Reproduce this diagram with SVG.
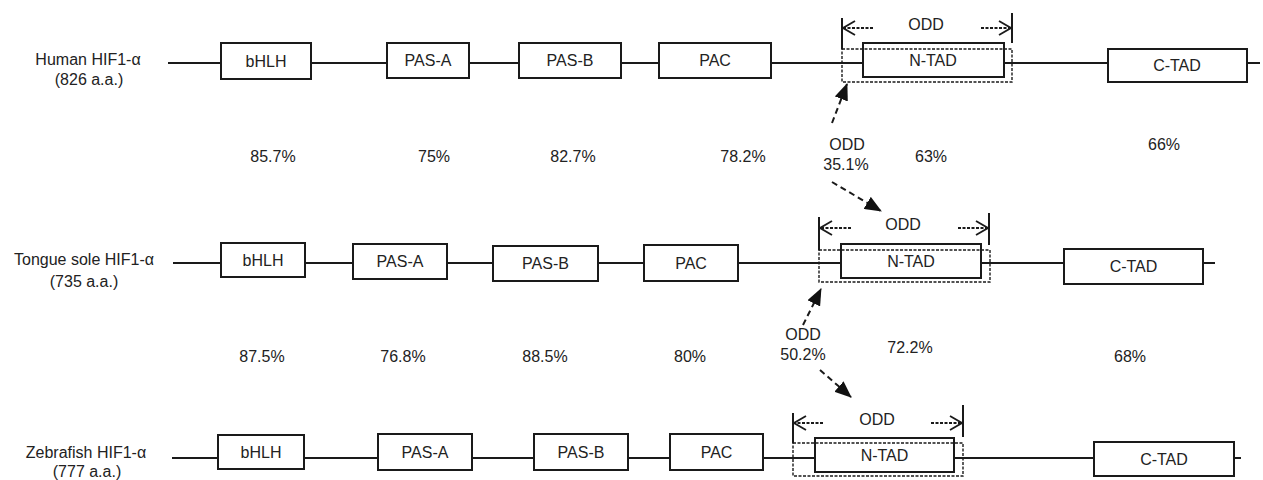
<svg xmlns="http://www.w3.org/2000/svg" width="1263" height="480" viewBox="0 0 1263 480">
  <style>
    text { font-family: "Liberation Sans", Arial, sans-serif; font-size: 16px; fill: #222; text-anchor: middle; }
    .bb { fill: #fff; stroke: #1a1a1a; stroke-width: 2; }
    .bl { dominant-baseline: central; }
    .chain { stroke: #1a1a1a; stroke-width: 2; fill: none; }
    .odd-box { fill: none; stroke: #1a1a1a; stroke-width: 1.4; stroke-dasharray: 3 1.5; }
    .bar { stroke: #1a1a1a; stroke-width: 2; }
    .span { stroke: #1a1a1a; stroke-width: 1.8; stroke-dasharray: 3 1.5; fill: none; marker-end: url(#chev); }
    .link { stroke: #1a1a1a; stroke-width: 2; stroke-dasharray: 6 4; fill: none; marker-end: url(#tri); }
  </style>
  <defs>
    <marker id="chev" viewBox="0 0 14 16" refX="13" refY="8" markerWidth="14" markerHeight="16" markerUnits="userSpaceOnUse" orient="auto">
      <path d="M1 1 L13 8 L1 15" fill="none" stroke="#1a1a1a" stroke-width="1.8"/>
    </marker>
    <marker id="tri" viewBox="0 0 17 14" refX="16" refY="7" markerWidth="17" markerHeight="14" markerUnits="userSpaceOnUse" orient="auto">
      <path d="M0 0 L17 7 L0 14 Z" fill="#111"/>
    </marker>
  </defs>

  <!-- Human HIF1-α -->
  <g id="human">
    <text x="88" y="65">Human HIF1-α</text>
    <text x="89" y="85">(826 a.a.)</text>
    <line class="chain" x1="168" y1="63" x2="1260" y2="63"/>
    <g id="human-bhlh"><rect class="bb" x="221" y="43" width="90" height="36"/><text class="bl" x="266" y="61">bHLH</text></g>
    <g id="human-pasa"><rect class="bb" x="387" y="43" width="82" height="35"/><text class="bl" x="428" y="60.5">PAS-A</text></g>
    <g id="human-pasb"><rect class="bb" x="519" y="43" width="102" height="35"/><text class="bl" x="570" y="60.5">PAS-B</text></g>
    <g id="human-pac"><rect class="bb" x="659" y="43" width="112" height="35"/><text class="bl" x="715" y="60.5">PAC</text></g>
    <g id="human-ntad"><rect class="bb" x="863" y="43" width="141" height="34"/><text class="bl" x="933" y="60">N-TAD</text></g>
    <rect class="odd-box" x="842" y="49" width="170" height="33"/>
    <g id="human-ctad"><rect class="bb" x="1108" y="49" width="139" height="33"/><text class="bl" x="1177" y="65.5">C-TAD</text></g>
    <g id="human-odd">
      <line class="bar" x1="842" y1="18" x2="842" y2="49"/>
      <line class="bar" x1="1012" y1="13" x2="1012" y2="43"/>
      <line class="span" x1="873" y1="28" x2="843" y2="28"/>
      <line class="span" x1="981" y1="28" x2="1011" y2="28"/>
      <text x="926" y="30">ODD</text>
    </g>
  </g>

  <!-- Identity, human vs tongue sole -->
  <g id="identity-1">
    <text x="273" y="162">85.7%</text>
    <text x="434" y="162">75%</text>
    <text x="573" y="162">82.7%</text>
    <text x="743" y="162">78.2%</text>
    <text x="847" y="150">ODD</text>
    <text x="846" y="170">35.1%</text>
    <text x="931" y="162">63%</text>
    <text x="1164" y="150">66%</text>
  </g>

  <!-- Tongue sole HIF1-α -->
  <g id="tongue-sole">
    <text x="84" y="265">Tongue sole HIF1-α</text>
    <text x="84" y="287">(735 a.a.)</text>
    <line class="chain" x1="173" y1="263" x2="1215" y2="263"/>
    <g id="ts-bhlh"><rect class="bb" x="221" y="243" width="84" height="34"/><text class="bl" x="263" y="260">bHLH</text></g>
    <g id="ts-pasa"><rect class="bb" x="353" y="244" width="94" height="35"/><text class="bl" x="400" y="261.5">PAS-A</text></g>
    <g id="ts-pasb"><rect class="bb" x="493" y="246" width="105" height="35"/><text class="bl" x="545.5" y="263.5">PAS-B</text></g>
    <g id="ts-pac"><rect class="bb" x="644" y="245" width="94" height="36"/><text class="bl" x="691" y="263">PAC</text></g>
    <g id="ts-ntad"><rect class="bb" x="841" y="244" width="140" height="34"/><text class="bl" x="911" y="261">N-TAD</text></g>
    <rect class="odd-box" x="819" y="250" width="171" height="32"/>
    <g id="ts-ctad"><rect class="bb" x="1064" y="249" width="139" height="35"/><text class="bl" x="1133.5" y="266.5">C-TAD</text></g>
    <g id="ts-odd">
      <line class="bar" x1="819" y1="217" x2="819" y2="250"/>
      <line class="bar" x1="989" y1="213" x2="989" y2="245"/>
      <line class="span" x1="851" y1="228" x2="820" y2="228"/>
      <line class="span" x1="958" y1="228" x2="988" y2="228"/>
      <text x="903" y="230">ODD</text>
    </g>
  </g>

  <!-- Identity, tongue sole vs zebrafish -->
  <g id="identity-2">
    <text x="262" y="362">87.5%</text>
    <text x="403" y="362">76.8%</text>
    <text x="545" y="362">88.5%</text>
    <text x="690" y="362">80%</text>
    <text x="803" y="340">ODD</text>
    <text x="803" y="360">50.2%</text>
    <text x="910" y="353">72.2%</text>
    <text x="1130" y="362">68%</text>
  </g>

  <!-- Zebrafish HIF1-α -->
  <g id="zebrafish">
    <text x="86" y="458">Zebrafish HIF1-α</text>
    <text x="87" y="477">(777 a.a.)</text>
    <line class="chain" x1="172" y1="458" x2="1241" y2="458"/>
    <g id="zf-bhlh"><rect class="bb" x="218" y="435" width="86" height="34"/><text class="bl" x="261" y="452">bHLH</text></g>
    <g id="zf-pasa"><rect class="bb" x="378" y="434" width="94" height="36"/><text class="bl" x="425" y="452">PAS-A</text></g>
    <g id="zf-pasb"><rect class="bb" x="534" y="434" width="94" height="36"/><text class="bl" x="581" y="452">PAS-B</text></g>
    <g id="zf-pac"><rect class="bb" x="670" y="434" width="93" height="36"/><text class="bl" x="716.5" y="452">PAC</text></g>
    <g id="zf-ntad"><rect class="bb" x="815" y="438" width="139" height="34"/><text class="bl" x="884.5" y="455">N-TAD</text></g>
    <rect class="odd-box" x="793" y="443" width="170" height="33"/>
    <g id="zf-ctad"><rect class="bb" x="1094" y="442" width="140" height="34"/><text class="bl" x="1164" y="459">C-TAD</text></g>
    <g id="zf-odd">
      <line class="bar" x1="793" y1="413" x2="793" y2="443"/>
      <line class="bar" x1="963" y1="405" x2="963" y2="437"/>
      <line class="span" x1="823" y1="423" x2="794" y2="423"/>
      <line class="span" x1="931" y1="423" x2="962" y2="423"/>
      <text x="877" y="425">ODD</text>
    </g>
  </g>

  <!-- ODD comparison pointers -->
  <g id="connectors">
    <line class="link" x1="832" y1="123" x2="847" y2="84"/>
    <line class="link" x1="832" y1="182" x2="881" y2="211"/>
    <line class="link" x1="803" y1="325" x2="821" y2="289"/>
    <line class="link" x1="820" y1="370" x2="851" y2="397"/>
  </g>
</svg>
